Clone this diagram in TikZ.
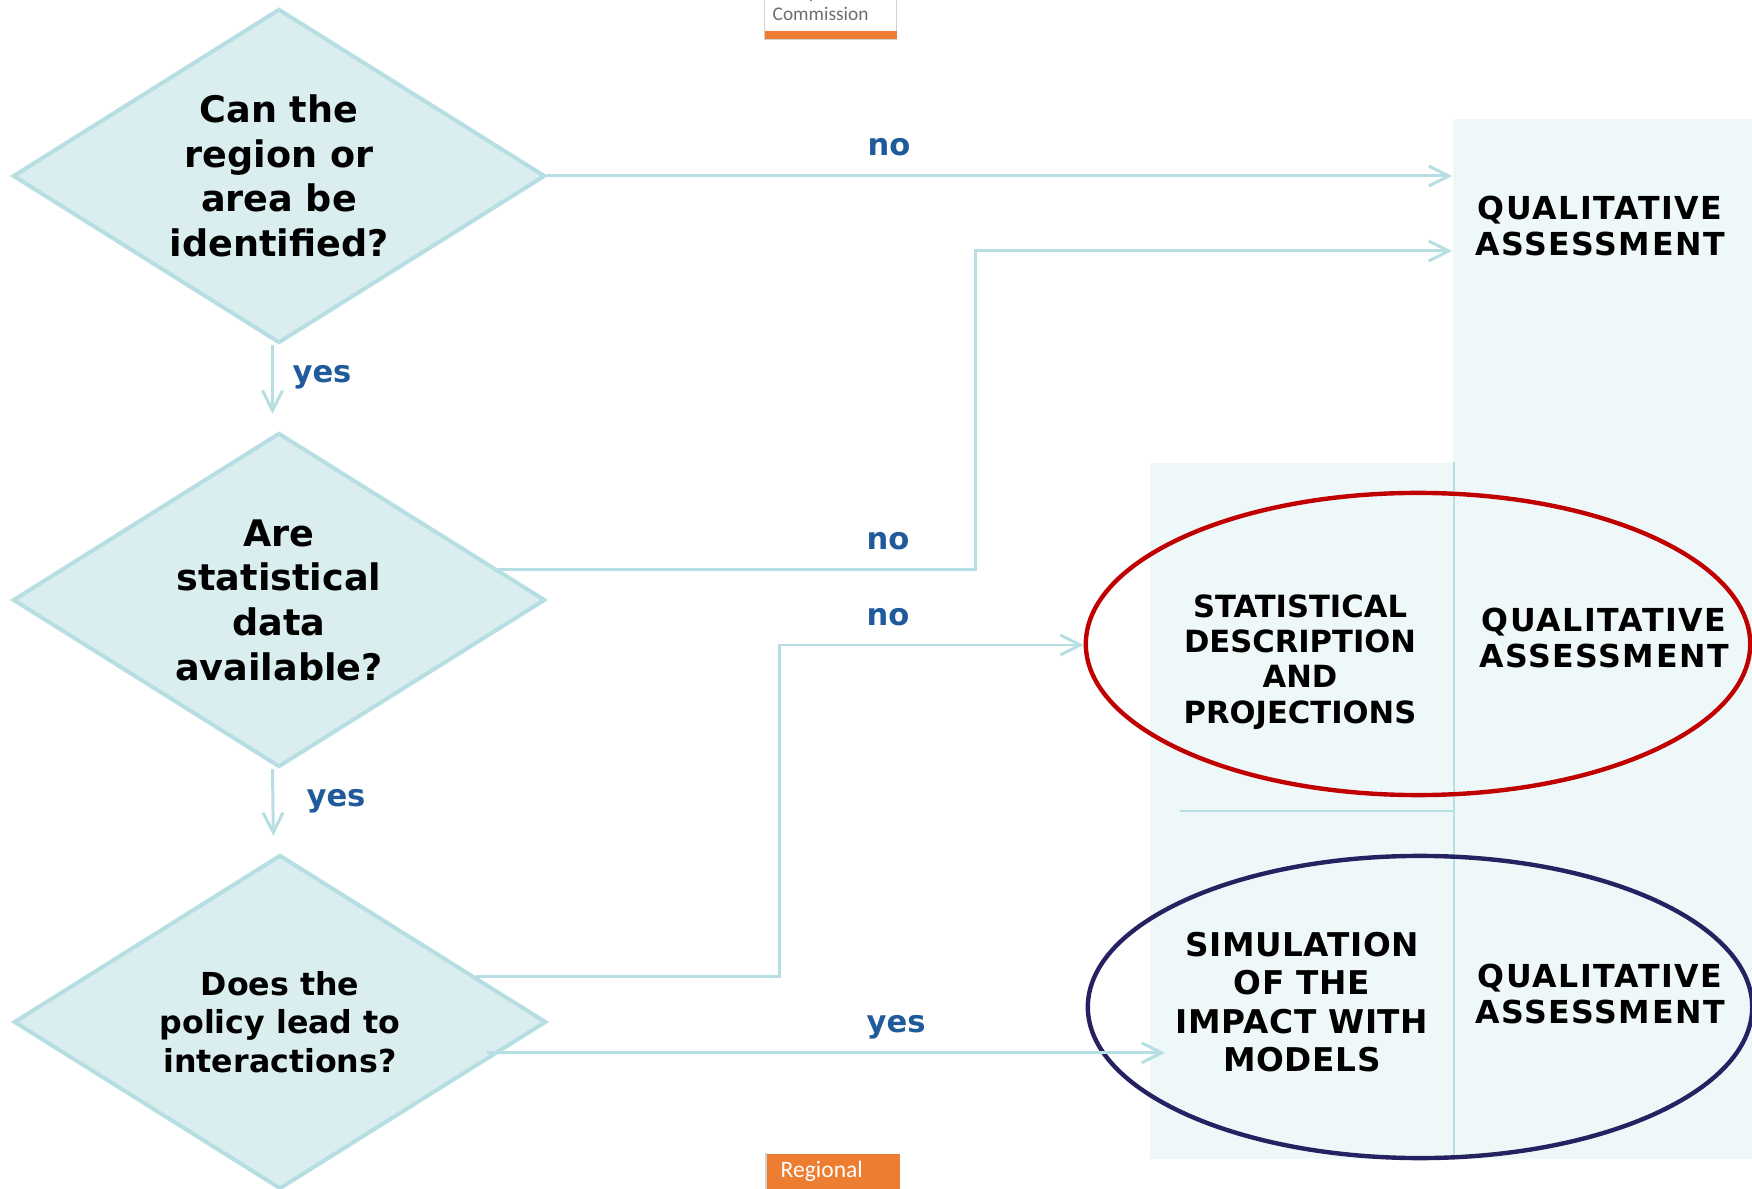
\documentclass[tikz,border=0pt]{standalone}
\usepackage{fontspec}
\setmainfont{DejaVu Sans}
\newfontfamily\logofont{Carlito}
\usetikzlibrary{arrows.meta, shapes.geometric, positioning}
\definecolor{qfill}{HTML}{DAEDEF}
\definecolor{qline}{HTML}{B7DFE3}
\definecolor{panelbg}{HTML}{EFF8F8}
\definecolor{lblblue}{HTML}{1F5A9A}
\definecolor{ovalred}{HTML}{C00000}
\definecolor{ovalnavy}{HTML}{262262}
\definecolor{ecorange}{HTML}{ED7D31}
\definecolor{ecgrey}{HTML}{6D6E71}

\begin{document}
\begin{tikzpicture}[
    x=0.01cm, y=-0.01cm,
    question/.style={diamond, draw=qline, fill=qfill, line width=1.15pt, aspect=1.593,
                     inner sep=0pt, minimum width=5.32cm, minimum height=3.34cm, align=center,
                     font=\bfseries\fontsize{10.4}{12.7}\selectfont},
    panel/.style   ={fill=panelbg, inner sep=0pt, anchor=north west},
    caps/.style    ={align=center, inner sep=0pt, font=\bfseries\fontsize{9}{10.5}\selectfont},
    qual/.style    ={caps, font=\bfseries\fontsize{9}{10.5}\selectfont\addfontfeature{LetterSpace=5}},
    oval/.style    ={ellipse, draw, line width=1.25pt, minimum width=6.64cm, minimum height=3.02cm},
    lbl/.style     ={anchor=base, inner sep=0pt, text=lblblue, font=\bfseries\fontsize{8.7}{10}\selectfont},
    flow/.style    ={-{Straight Barb[length=0.2cm, width=0.2cm]}, draw=qline, line width=0.85pt},
    divider/.style ={draw=qline, line width=0.6pt},
    logo/.style    ={anchor=base west, inner sep=0pt},
]
\useasboundingbox (0,0) rectangle (1752,1189);

% logo fragments
\node[anchor=north west, fill=white, draw=black!18, line width=0.3pt, inner sep=0pt,
      minimum width=1.32cm, minimum height=0.5cm] (ecbox) at (764,-11) {};
\node[anchor=north west, fill=ecorange, inner sep=0pt,
      minimum width=1.32cm, minimum height=0.087cm] (ecbar) at (764,30) {};
\node[logo, text=ecgrey, font=\logofont\fontsize{5.5}{6}\selectfont] (eceuro) at (772,-1.5) {European};
\node[logo, text=ecgrey, font=\logofont\fontsize{5.5}{6}\selectfont] (eccomm) at (772,20.7) {Commission};
\node[anchor=north west, fill=ecorange, inner sep=0pt,
      minimum width=1.33cm, minimum height=0.5cm] (regbar) at (766,1153) {};
\draw[black!18, line width=0.3pt] (regbar.north west) -- (regbar.south west);
\node[logo, text=white, font=\logofont\fontsize{6.7}{8}\selectfont] (regtext) at (780,1177) {Regional};

% right-hand columns
\node[panel, minimum width=3cm, minimum height=10.4cm] (panelA) at (1452,118) {};
\node[panel, minimum width=3.03cm, minimum height=6.96cm] (panelB) at (1149,462) {};
\draw[divider] (panelB.north east) -- (panelB.south east);
\coordinate (hline) at (1180,811);
\draw[divider] (hline) -- (hline -| panelB.east);

\node[oval, draw=ovalred]  (ovalstat) at (1418,644)  {};
\node[oval, draw=ovalnavy] (ovalsim)  at (1420,1007) {};

\node[qual] (qualtop) at (1600,226) {QUALITATIVE\\ASSESSMENT};
\node[qual] (qualmid) at (1604,638) {QUALITATIVE\\ASSESSMENT};
\node[qual] (qualbot) at (1600,994) {QUALITATIVE\\ASSESSMENT};
\node[caps, font=\bfseries\fontsize{8.7}{10}\selectfont] (stat) at (1300,662)
   {STATISTICAL\\DESCRIPTION\\AND\\PROJECTIONS};
\node[caps, font=\bfseries\fontsize{9.3}{10.9}\selectfont\addfontfeature{LetterSpace=2}] (sim) at (1302,1002)
   {SIMULATION\\OF THE\\IMPACT WITH\\MODELS};

% decisions
\node[question] (qregion) at (279,176) {Can the\\region or\\area be\\identified?};
\node[question] (qdata)   at (279,600) {Are\\statistical\\data\\available?};
\node[question, font=\bfseries\fontsize{9}{11}\selectfont] (qinter) at (280,1022)
   {Does the\\policy lead to\\interactions?};

\coordinate (bendA) at (975,251);
\coordinate (bendB) at (779,645);
\coordinate (simin) at (1165,1052);
\coordinate (yesstart) at ([xshift=-0.12cm]qinter.-8);

\draw[flow] (qregion.east) -- (qregion.east -| panelA.west);
\draw[flow] (qdata.8) -| (bendA) -- (bendA -| panelA.west);
\draw[flow] (qinter.13) -| (bendB) -- (bendB -| ovalstat.west);
\draw[flow] (yesstart) -- (yesstart -| simin);
\draw[flow, shorten >=0.17cm] ([xshift=-0.065cm]qregion.south) -- ([xshift=-0.065cm]qdata.north);
\draw[flow, shorten >=0.17cm] ([xshift=-0.065cm]qdata.south) -- ([xshift=-0.065cm]qinter.north);

\node[lbl] (noregion)  at (889,156)  {no};
\node[lbl] (yesregion) at (322,383)  {yes};
\node[lbl] (nodata)    at (888,550)  {no};
\node[lbl] (nointer)   at (888,626)  {no};
\node[lbl] (yesdata)   at (336,807)  {yes};
\node[lbl] (yesinter)  at (896,1032) {yes};
\end{tikzpicture}
\end{document}
